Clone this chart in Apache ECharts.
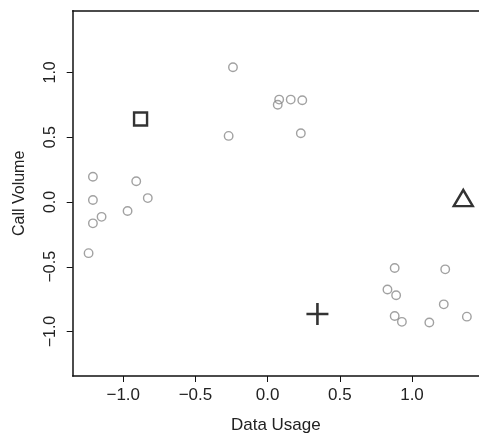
<!DOCTYPE html>
<html>
<head>
<meta charset="utf-8">
<script src="https://cdn.jsdelivr.net/npm/echarts@6/dist/echarts.min.js"></script>
<style>html,body{margin:0;padding:0;background:#fff}#c{width:479px;height:436px}</style>
</head>
<body>
<div id="c"></div>
<script>
var xTicks = [-1.0, -0.5, 0.0, 0.5, 1.0];
var yTicks = [-1.0, -0.5, 0.0, 0.5, 1.0];
var dataUsage = [-1.21, -0.91, -1.21, -0.83, -1.15, -1.21, -0.97, -1.24,
                 -0.24, 0.08, 0.07, 0.16, 0.24, -0.27, 0.23,
                 0.88, 1.23, 0.83, 0.89, 1.22, 0.88, 0.93, 1.12, 1.38];
var callVolume = [0.195, 0.16, 0.015, 0.03, -0.115, -0.165, -0.07, -0.395,
                  1.04, 0.79, 0.75, 0.79, 0.785, 0.51, 0.53,
                  -0.51, -0.52, -0.675, -0.72, -0.79, -0.88, -0.925, -0.93, -0.885];
var squareCenter = [-0.88, 0.64];
var triangleCenter = [1.355, 0.03];
var plusCenter = [0.345, -0.865];

var pts = dataUsage.map(function(v, i){ return [v, callVolume[i]]; });
function fmt(v){ var s = Math.abs(v).toFixed(1); return v < 0 ? '\u2212' + s : s; }
var fontX = {fontFamily: 'Liberation Sans, Arial, sans-serif', fontSize: 17, color: '#222'};
var fontY = {fontFamily: 'Liberation Sans, Arial, sans-serif', fontSize: 16, color: '#222'};

var chart = echarts.init(document.getElementById('c'));
chart.setOption({
  animation: false,
  grid: {left: 72.7, right: 0, top: 10.7, bottom: 60, containLabel: false, outerBoundsMode: 'none'},
  xAxis: [{
    type: 'value', min: -1.35, max: 1.464, position: 'bottom',
    splitLine: {show: false},
    axisLine: {show: true, onZero: false, lineStyle: {color: '#111', width: 1.5}},
    axisTick: {show: true, length: 6, customValues: xTicks, lineStyle: {color: '#111', width: 1}},
    axisLabel: Object.assign({margin: 11, customValues: xTicks, formatter: fmt}, fontX),
    name: 'Data Usage', nameLocation: 'middle', nameGap: 41,
    nameTextStyle: fontX
  }, {
    type: 'value', min: -1.35, max: 1.464, position: 'top',
    splitLine: {show: false},
    axisLine: {show: true, onZero: false, lineStyle: {color: '#111', width: 1.5}},
    axisTick: {show: false}, axisLabel: {show: false}
  }],
  yAxis: {
    type: 'value', min: -1.343, max: 1.476,
    splitLine: {show: false},
    axisLine: {show: true, onZero: false, lineStyle: {color: '#111', width: 1.5}},
    axisTick: {show: true, length: 6, customValues: yTicks, lineStyle: {color: '#111', width: 1}},
    axisLabel: Object.assign({margin: 14, rotate: 90, customValues: yTicks, formatter: fmt}, fontY),
    name: 'Call Volume', nameLocation: 'middle', nameGap: 45,
    nameTextStyle: fontY
  },
  series: [{
    type: 'scatter', data: pts, symbol: 'circle', symbolSize: 8.5,
    itemStyle: {color: 'rgba(255,255,255,0)', borderColor: '#8a8a8a', borderWidth: 1.4}
  }, {
    type: 'scatter', data: [squareCenter], symbol: 'rect', symbolSize: 13,
    itemStyle: {color: 'rgba(255,255,255,0)', borderColor: '#000', borderWidth: 2.4}
  }, {
    type: 'scatter', data: [triangleCenter], symbol: 'triangle', symbolSize: [19, 16],
    itemStyle: {color: 'rgba(255,255,255,0)', borderColor: '#000', borderWidth: 2.4}
  }, {
    type: 'scatter', data: [plusCenter], symbol: 'path://M0 11L22 11M11 0L11 22', symbolSize: 22,
    itemStyle: {color: 'none', borderColor: '#000', borderWidth: 2.6}
  }]
});
</script>
</body>
</html>
